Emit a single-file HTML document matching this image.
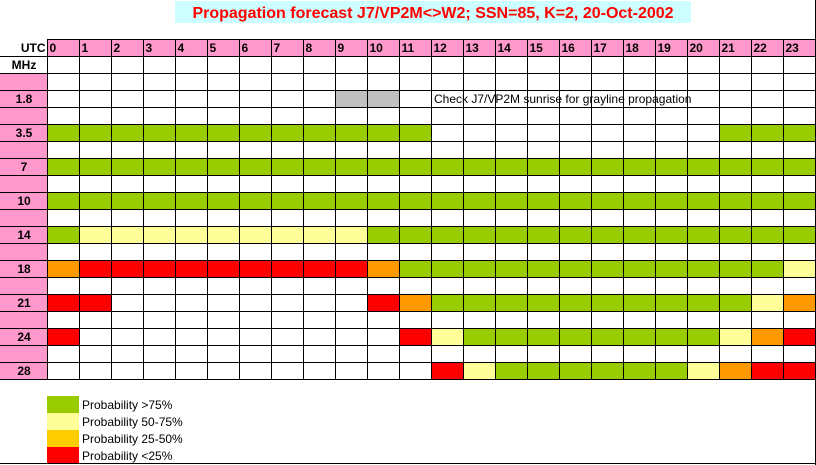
<!DOCTYPE html>
<html><head><meta charset="utf-8"><style>
html,body{margin:0;padding:0;background:#fff;}
svg{display:block;font-family:"Liberation Sans",Arial,sans-serif;}
</style></head><body>
<svg id="chart" width="816" height="465" viewBox="0 0 816 465" xmlns="http://www.w3.org/2000/svg">
<rect x="175" y="1" width="516" height="22" fill="#CCFFFF"/>
<text x="433" y="18" text-anchor="middle" font-size="16" font-weight="bold" fill="#FF0000">Propagation forecast J7/VP2M&lt;&gt;W2; SSN=85, K=2, 20-Oct-2002</text>
<g id="grid"></g>
<g id="legend"></g>
<line x1="815.5" y1="0" x2="815.5" y2="465" stroke="#000"/>
<line x1="0" y1="463.5" x2="816" y2="463.5" stroke="#000"/>
</svg>
<script>
const hours = [0,1,2,3,4,5,6,7,8,9,10,11,12,13,14,15,16,17,18,19,20,21,22,23];
const bands = ["1.8","3.5","7","10","14","18","21","24","28"];
// 0 none, 1 >75%, 2 50-75%, 3 25-50%, 4 <25%, 5 grayline
const band1_8 = [0,0,0,0,0,0,0,0,0,5,5,0,0,0,0,0,0,0,0,0,0,0,0,0];
const band3_5 = [1,1,1,1,1,1,1,1,1,1,1,1,0,0,0,0,0,0,0,0,0,1,1,1];
const band7   = [1,1,1,1,1,1,1,1,1,1,1,1,1,1,1,1,1,1,1,1,1,1,1,1];
const band10  = [1,1,1,1,1,1,1,1,1,1,1,1,1,1,1,1,1,1,1,1,1,1,1,1];
const band14  = [1,2,2,2,2,2,2,2,2,2,1,1,1,1,1,1,1,1,1,1,1,1,1,1];
const band18  = [3,4,4,4,4,4,4,4,4,4,3,1,1,1,1,1,1,1,1,1,1,1,1,2];
const band21  = [4,4,0,0,0,0,0,0,0,0,4,3,1,1,1,1,1,1,1,1,1,1,2,3];
const band24  = [4,0,0,0,0,0,0,0,0,0,0,4,2,1,1,1,1,1,1,1,1,2,3,4];
const band28  = [0,0,0,0,0,0,0,0,0,0,0,0,4,2,1,1,1,1,1,1,2,3,4,4];
const bandValues = [band1_8,band3_5,band7,band10,band14,band18,band21,band24,band28];
const legendLabels = ["Probability >75%","Probability 50-75%","Probability 25-50%","Probability <25%"];
const colors = ["#FFFFFF","#99CC00","#FFFF99","#FF9900","#FF0000","#C0C0C0"];
const legendColors = ["#99CC00","#FFFF99","#FFCC00","#FF0000"];

const NS="http://www.w3.org/2000/svg";
const g=document.getElementById('grid');
const X0=47.5, CW=32, Y0=39, RH=17;
const xOf=h=>X0+h*CW;
const yOf=r=>Y0+r*RH; // r=0 header
function mk(tag,attrs,parent){const e=document.createElementNS(NS,tag);for(const k in attrs)e.setAttribute(k,attrs[k]);parent.appendChild(e);return e;}
const nRows=2+bands.length*2;
// header
const hb=mk('rect',{x:X0,y:Y0,width:24*CW,height:RH,fill:'#FF99CC'},g);


const utc=mk('text',{x:X0-2,y:Y0+13,'text-anchor':'end','font-size':12,'font-weight':'bold'},g);utc.textContent='UTC';


hours.forEach(h=>{const t=mk('text',{x:xOf(h)+2,y:Y0+13,'font-size':12,'font-weight':'bold'},g);t.textContent=h;

});
const mhz=mk('text',{x:24,y:yOf(1)+13,'text-anchor':'middle','font-size':12,'font-weight':'bold'},g);mhz.textContent='MHz';


// band rows
bands.forEach((b,i)=>{
  const rBand=3+i*2, rBlank=2+i*2;
  [rBlank,rBand].forEach(r=>{const p=mk('rect',{x:0,y:yOf(r),width:X0,height:RH,fill:'#FF99CC'},g);
  
  });
  const t=mk('text',{x:24,y:yOf(rBand)+13,'text-anchor':'middle','font-size':12,'font-weight':'bold'},g);t.textContent=b;
  
  
  bandValues[i].forEach((v,h)=>{
    if(v===0)return;
    const c=mk('rect',{x:xOf(h),y:yOf(rBand),width:CW,height:RH,fill:colors[v]},g);
    
    
  });
});
// grid lines
for(let r=0;r<=nRows;r++){const y=yOf(r)+0.5;const l=mk('line',{x1:r<=1?X0-47.5:0,x2:816,y1:y,y2:y,stroke:'#000'},g);
if(r===0)l.setAttribute('x1',X0);

}
for(let h=0;h<=24;h++){const x=xOf(h);const l=mk('line',{x1:x,x2:x,y1:Y0,y2:yOf(nRows)+1,stroke:'#000'},g);

}
// note
const note=mk('text',{x:434,y:yOf(3)+13,'font-size':12,fill:'#000'},g);
note.textContent='Check J7/VP2M sunrise for grayline propagation';


// legend
const lg=document.getElementById('legend');
legendLabels.forEach((lab,i)=>{
  const y=396+i*17;
  const s=mk('rect',{x:47,y:y,width:32,height:17,fill:legendColors[i]},lg);
  
  
  const t=mk('text',{x:82,y:y+13,'font-size':12},lg);t.textContent=lab;
  
  
});
</script>
</body></html>
